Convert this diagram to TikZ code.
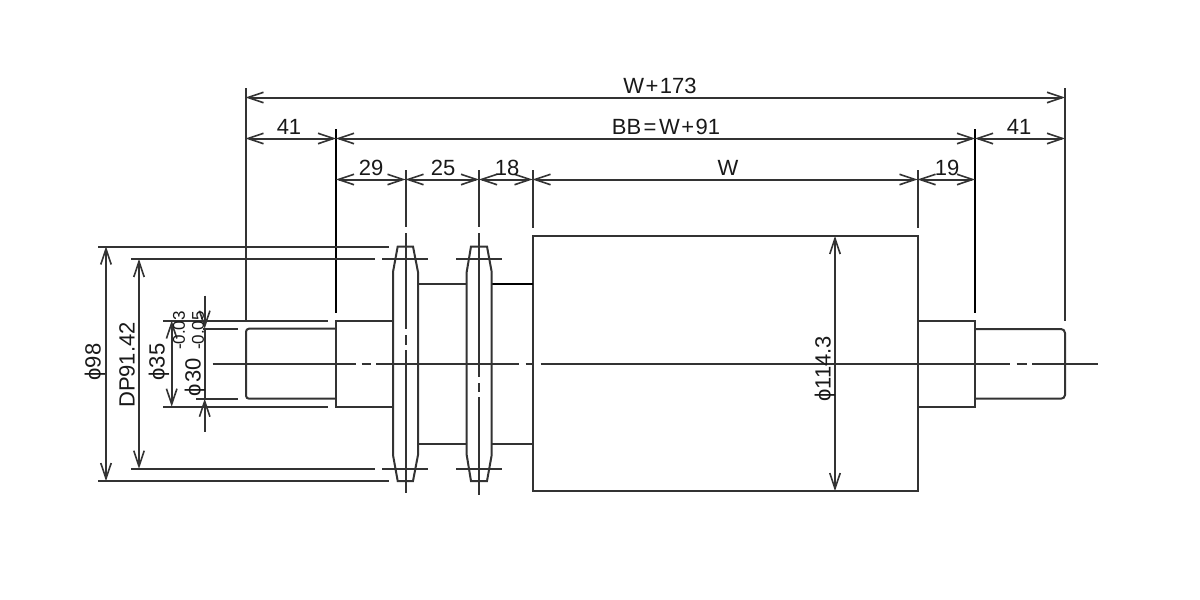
\documentclass[tikz,border=0pt]{standalone}
\usepackage{fontspec}
\setmainfont{Liberation Sans}
\usetikzlibrary{arrows.meta}
\tikzset{
  ln/.style={line width=2pt,black!80},
  dim/.style={line width=2pt,black!80,{Straight Barb[length=15.5pt,width=10.5pt,line width=1.6pt]}-{Straight Barb[length=15.5pt,width=10.5pt,line width=1.6pt]}},
  dimend/.style={line width=2pt,black!80,-{Straight Barb[length=15.5pt,width=10.5pt,line width=1.6pt]}},
  lab/.style={font=\fontsize{22pt}{22pt}\selectfont,inner sep=0pt,text=black!90},
  small/.style={font=\fontsize{17pt}{17pt}\selectfont,inner sep=0pt,text=black!90,rotate=90}
}
\newcommand{\phisym}{ϕ}
\newcommand{\wplus}{\kern1.5pt+\kern1.5pt}
\newcommand{\weq}{\kern2.5pt=\kern2.5pt}
\begin{document}
\begin{tikzpicture}[x=1pt,y=-1pt]
\useasboundingbox[fill=white] (0,0) rectangle (1200,600);
% roller and hubs
\draw[ln] (532.5,236) rectangle (917.5,491);
\draw[ln] (418,283.5) -- (467,283.5) (418,443.7) -- (467,443.7);
\draw[ln,black] (491.7,283.7) -- (532.5,283.7);
\draw[ln] (491.7,443.7) -- (532.5,443.7);
% sprockets
\draw[ln] (397.7,246.5) -- (413,246.5) -- (418,272) -- (418,455) -- (413,481) -- (397.7,481) -- (393,455) -- (393,272) -- cycle;
\draw[ln] (471,246.5) -- (487,246.5) -- (491.7,272) -- (491.7,455) -- (487,481) -- (471,481) -- (466.7,455) -- (466.7,272) -- cycle;
% left shaft
\draw[ln] (393,320.5) -- (336,320.5) -- (336,406.7) -- (393,406.7);
\draw[ln] (336,328.7) -- (249,328.7) to[out=180,in=90] (246,331.7) -- (246,395.7) to[out=-90,in=180] (249,398.7) -- (336,398.7);
% right shaft
\draw[ln] (918,320.7) -- (975,320.7) -- (975,406.7) -- (918,406.7);
\draw[ln] (975,329) -- (1061,329) to[out=0,in=90] (1065,333) -- (1065,395) to[out=-90,in=0] (1061,398.7) -- (975,398.7);
% centre line
\draw[ln] (212.7,363.7) -- (356,363.7) (361.7,363.7) -- (370.7,363.7) (376,363.7) -- (519,363.7) (525.7,363.7) -- (534,363.7) (540.7,363.7) -- (1010,363.7) (1016.7,363.7) -- (1026.7,363.7) (1032,363.7) -- (1098,363.7);
% sprocket centre lines
\draw[ln] (405.5,170) -- (405.5,227) (405.5,233) -- (405.5,329) (405.5,335) -- (405.5,345) (405.5,350) -- (405.5,493);
\draw[ln] (479.3,170) -- (479.3,227) (479.3,233) -- (479.3,377) (479.3,383) -- (479.3,392) (479.3,397) -- (479.3,495);
% extension lines
\draw[ln] (245.5,88) -- (245.5,320);
\draw[ln] (1065.3,88) -- (1065.3,321);
\draw[ln,black] (336.3,129) -- (336.3,313);
\draw[ln,black] (975.3,129) -- (975.3,313);
\draw[ln] (532.5,170) -- (532.5,228);
\draw[ln] (917.5,170) -- (917.5,228);
% horizontal extension lines, left
\draw[ln] (98,246.5) -- (389,246.5);
\draw[ln] (98,480.7) -- (389,480.7);
\draw[ln] (131,258.7) -- (375,258.7) (382,258.7) -- (428,258.7) (456,258.7) -- (502,258.7);
\draw[ln] (131,468.7) -- (375,468.7) (382,468.7) -- (428,468.7) (456,468.7) -- (502,468.7);
\draw[ln] (163,320.5) -- (328,320.5);
\draw[ln] (163,406.7) -- (328,406.7);
\draw[ln] (203,328.7) -- (237.7,328.7);
\draw[ln] (196,398.7) -- (237.7,398.7);
% horizontal dimensions
\draw[dim] (245.5,97.5) -- (1065,97.5);
\draw[dim] (245.5,138.5) -- (336,138.5);
\draw[dim] (336,138.5) -- (975,138.5);
\draw[dim] (975,138.5) -- (1065,138.5);
\draw[dim] (336,179.5) -- (405.5,179.5);
\draw[dim] (405.5,179.5) -- (479,179.5);
\draw[dim] (479,179.5) -- (532.5,179.5);
\draw[dim] (532.5,179.5) -- (917.5,179.5);
\draw[dim] (917.5,179.5) -- (975,179.5);
% vertical dimensions
\draw[dim] (106,246.5) -- (106,481);
\draw[dim] (139,259) -- (139,468.7);
\draw[dim] (171.7,320.5) -- (171.7,406.7);
\draw[dim] (835,236) -- (835,491);
\draw[dimend] (204.7,295.7) -- (204.7,328.7);
\draw[line width=2pt,black!80] (204.7,328.7) -- (204.7,398.7);
\draw[dimend] (204.7,431.7) -- (204.7,398.7);
% labels
\node[lab] (t1) at (660,85.5) {W\wplus 173};
\node[lab] (t2) at (666,127) {BB\weq W\wplus 91};
\node[lab] (t3) at (289,127) {41};
\node[lab] (t4) at (1019,127) {41};
\node[lab] (t5) at (371,168) {29};
\node[lab] (t6) at (443,168) {25};
\node[lab] (t7) at (507,168) {18};
\node[lab] (t8) at (728,168) {W};
\node[lab] (t9) at (947,168) {19};
\node[lab,rotate=90] (t10) at (825,369) {\phisym 114.3};
\node[lab,rotate=90] (t11) at (95,362) {\phisym 98};
\node[lab,rotate=90] (t12) at (127,365) {DP91.42};
\node[lab,rotate=90] (t13) at (159,362) {\phisym 35};
\node[lab,rotate=90] (t14) at (195,377.5) {\phisym\kern2pt 30};
\node[small] (t15) at (179,330.5) {-0.03};
\node[small] (t16) at (198,330.5) {-0.05};
\end{tikzpicture}
\end{document}
